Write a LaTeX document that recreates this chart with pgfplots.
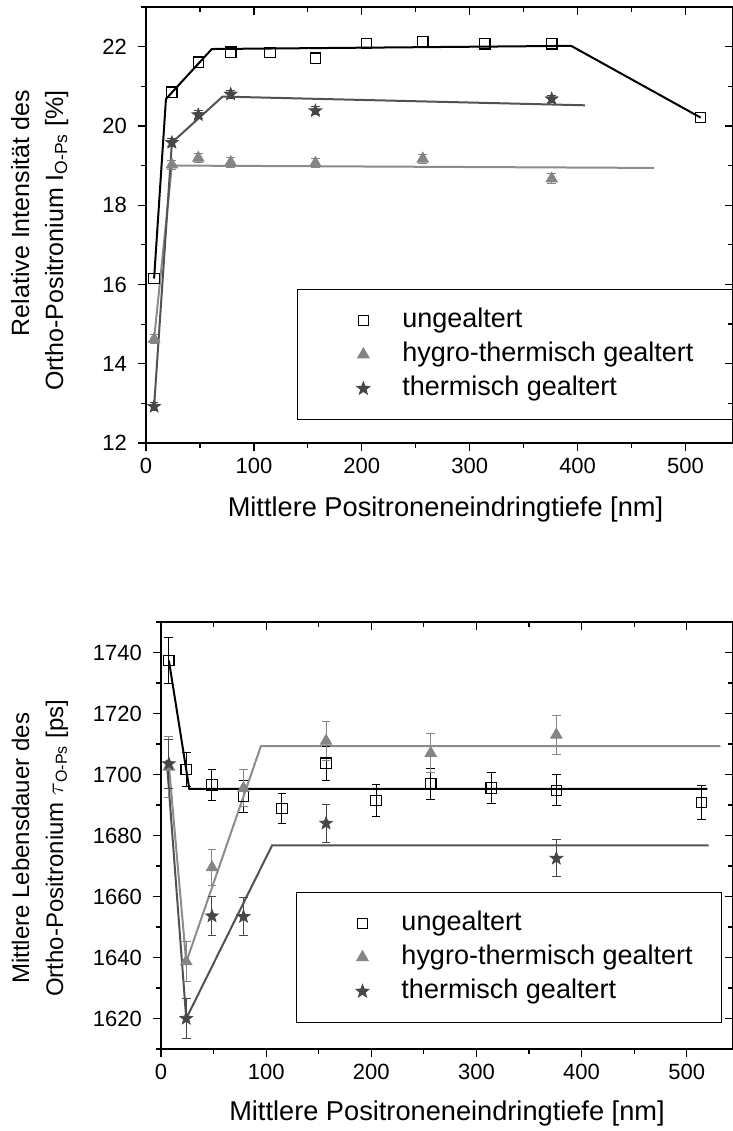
\documentclass[border=0pt]{standalone}
\usepackage{fontspec}
\setmainfont{Liberation Sans}
\usepackage{pgfplots}
\pgfplotsset{compat=1.18}

\definecolor{hygro}{gray}{0.52}
\definecolor{therm}{gray}{0.28}
\definecolor{hygroline}{gray}{0.55}
\definecolor{thermline}{gray}{0.32}

% filled five-pointed star
\pgfdeclareplotmark{fstar}{%
  \pgfpathmoveto{\pgfpointpolar{90}{\pgfplotmarksize}}%
  \pgfpathlineto{\pgfpointpolar{126}{0.42\pgfplotmarksize}}%
  \pgfpathlineto{\pgfpointpolar{162}{\pgfplotmarksize}}%
  \pgfpathlineto{\pgfpointpolar{198}{0.42\pgfplotmarksize}}%
  \pgfpathlineto{\pgfpointpolar{234}{\pgfplotmarksize}}%
  \pgfpathlineto{\pgfpointpolar{270}{0.42\pgfplotmarksize}}%
  \pgfpathlineto{\pgfpointpolar{306}{\pgfplotmarksize}}%
  \pgfpathlineto{\pgfpointpolar{342}{0.42\pgfplotmarksize}}%
  \pgfpathlineto{\pgfpointpolar{18}{\pgfplotmarksize}}%
  \pgfpathlineto{\pgfpointpolar{54}{0.42\pgfplotmarksize}}%
  \pgfpathclose
  \pgfusepathqfillstroke
}

\pgfplotsset{
  frame/.style={
    scale only axis,
    xmin=0, xmax=544,
    axis line style={line width=0.8pt},
    every tick/.style={black, line width=0.6pt},
    major tick length=4pt, minor tick length=2.5pt,
    xtick={0,100,...,500}, minor xtick={50,150,...,550},
    ticklabel style={font=\fontsize{11}{13}\selectfont},
    yticklabel style={xshift=-2pt},
    /pgf/number format/assume math mode=true,
    /pgf/number format/1000 sep={},
  },
  main/.style={frame, tick align=outside, tick pos=left},
  mirror/.style={frame, tick align=inside, tick pos=right,
    xticklabels={}, yticklabels={}},
  ung/.style={only marks, mark=square, mark size=2.6pt, black,
    mark options={fill=white, line width=0.6pt}},
  hyg/.style={only marks, mark=triangle*, mark size=3.3pt, hygro,
    mark options={fill=hygro}},
  the/.style={only marks, mark=fstar, mark size=3.3pt, therm,
    mark options={fill=therm}},
  errs/.style={error bars/.cd, y dir=both, y explicit,
    error bar style={line width=0.5pt},
    error mark options={rotate=90, line width=0.5pt, mark size=2.2pt}},
  leg/.style={
    legend cell align=left,
    legend image code/.code={%
      \path[draw=none, fill=none] (0pt,0pt) -- (30pt,0pt);
      \draw[mark repeat=2, mark phase=2, ##1]
        plot coordinates {(21pt,0pt)(22pt,0pt)(23pt,0pt)};},
    legend style={draw=black, line width=0.5pt, inner xsep=11pt,
      inner ysep=8pt, row sep=2pt, column sep=11.5pt,
      font=\fontsize{13.5}{16}\selectfont,
      nodes={inner xsep=0pt, inner ysep=1pt, text height=10pt, text depth=3pt}},
  },
  xlab/.style={xlabel style={font=\fontsize{13.6}{16}\selectfont,
    at={(axis description cs:0.5,0)}, anchor=center, yshift=#1}},
}

\begin{document}
\begin{tikzpicture}
\useasboundingbox (0pt,0pt) rectangle (366.5pt,-565.5pt);

% ---------- top: intensity ----------
\begin{axis}[main, leg,
  at={(73pt,-221.5pt)}, anchor=south west,
  width=293.5pt, height=218pt,
  ymin=12, ymax=23,
  ytick={12,14,...,22}, minor ytick={13,15,...,23},
  xlabel={Mittlere Positroneneindringtiefe [nm]}, xlab=-33pt,
  xlabel style={xshift=3pt},
  ylabel={Relative Intensität des\\Ortho-Positronium I\textsubscript{O-Ps} [\%]},
  ylabel style={font=\fontsize{12.5}{17}\selectfont, align=right,
    inner sep=0pt, at={(axis description cs:-0.181,0.81)}, anchor=east},
  legend style={at={(axis description cs:0.257,0.353)}, anchor=north west},
]
\addplot[black, line width=1pt, forget plot] coordinates {
  (7.5,16.15)(18.5,20.68)(61,21.94)(394,22.02)(514,20.21)};
\addplot[hygroline, line width=1pt, forget plot] coordinates {
  (7.5,14.62)(24,19.0)(471,18.94)};
\addplot[thermline, line width=1pt, forget plot] coordinates {
  (7.5,12.92)(24,19.58)(71,20.74)(407,20.52)};

\addplot[ung] coordinates {
  (7.5,16.15)(24,20.85)(48.5,21.61)(78.5,21.86)(115,21.85)(157,21.71)
  (204.5,22.08)(256.5,22.13)(314,22.07)(376,22.07)(514,20.21)};
\addplot[hyg, errs] coordinates {
  (7.5,14.62) +- (0,0.12) (24,19.02) +- (0,0.12) (48.5,19.19) +- (0,0.12)
  (78.5,19.08) +- (0,0.12) (157,19.06) +- (0,0.12) (256.5,19.17) +- (0,0.12)
  (376,18.67) +- (0,0.12)};
\addplot[the, errs] coordinates {
  (7.5,12.92) +- (0,0.1) (24,19.58) +- (0,0.1) (48.5,20.28) +- (0,0.1)
  (78.5,20.80) +- (0,0.1) (157,20.38) +- (0,0.1) (376,20.68) +- (0,0.1)};
\legend{ungealtert, hygro-thermisch gealtert\hspace*{25pt}, thermisch gealtert}
\end{axis}
\begin{axis}[mirror,
  at={(73pt,-221.5pt)}, anchor=south west,
  width=293.5pt, height=218pt,
  ymin=12, ymax=23,
  ytick={12,14,...,22}, minor ytick={13,15,...,23}]
\end{axis}

% ---------- bottom: lifetime ----------
\begin{axis}[main, leg,
  at={(80.5pt,-524.5pt)}, anchor=south west,
  width=286pt, height=213.5pt,
  ymin=1610, ymax=1750,
  ytick={1620,1640,...,1740}, minor ytick={1610,1630,...,1750},
  xlabel={Mittlere Positroneneindringtiefe [nm]}, xlab=-32pt,
  ylabel={Mittlere Lebensdauer des\\Ortho-Positronium $\tau$\textsubscript{O-Ps} [ps]},
  ylabel style={font=\fontsize{12}{17}\selectfont, align=center,
    inner sep=0pt, at={(axis description cs:-0.2115,0.47)}, anchor=center},
  legend style={at={(axis description cs:0.236,0.368)}, anchor=north west},
]
\addplot[black, line width=1pt, forget plot] coordinates {
  (7.5,1737.4)(26.9,1695.3)(519.7,1695.3)};
\addplot[hygroline, line width=1pt, forget plot] coordinates {
  (7.5,1703)(24,1638.5)(95,1709.3)(532,1709.3)};
\addplot[thermline, line width=1pt, forget plot] coordinates {
  (5.4,1704.8)(24,1620)(105.7,1676.8)(520.8,1676.8)};

\addplot[ung, errs] coordinates {
  (7.5,1737.4) +- (0,7.5) (24,1701.7) +- (0,5.5) (48.5,1696.6) +- (0,5.2)
  (78.5,1692.8) +- (0,5.2) (115,1688.8) +- (0,5) (157,1703.7) +- (0,5.5)
  (204.5,1691.5) +- (0,5.2) (256.5,1696.9) +- (0,5.2) (314,1695.6) +- (0,5)
  (376,1694.8) +- (0,5.1) (514,1690.8) +- (0,5.5)};
\addplot[hyg, errs] coordinates {
  (7.5,1702.5) +- (0,10) (24,1638.7) +- (0,6.5) (48.5,1669.5) +- (0,6)
  (78.5,1695.5) +- (0,6) (157,1711) +- (0,6.5) (256.5,1707) +- (0,6.5)
  (376,1713) +- (0,6.5)};
\addplot[the, errs] coordinates {
  (7.5,1703.5) +- (0,8) (24,1620) +- (0,6.5) (48.5,1653.6) +- (0,6.3)
  (78.5,1653.4) +- (0,6.2) (157,1684) +- (0,6.2) (376,1672.5) +- (0,6.1)};
\legend{ungealtert, hygro-thermisch gealtert\hspace*{3.5pt}, thermisch gealtert}
\end{axis}
\begin{axis}[mirror,
  at={(80.5pt,-524.5pt)}, anchor=south west,
  width=286pt, height=213.5pt,
  ymin=1610, ymax=1750,
  ytick={1620,1640,...,1740}, minor ytick={1610,1630,...,1750}]
\end{axis}
\end{tikzpicture}
\end{document}
